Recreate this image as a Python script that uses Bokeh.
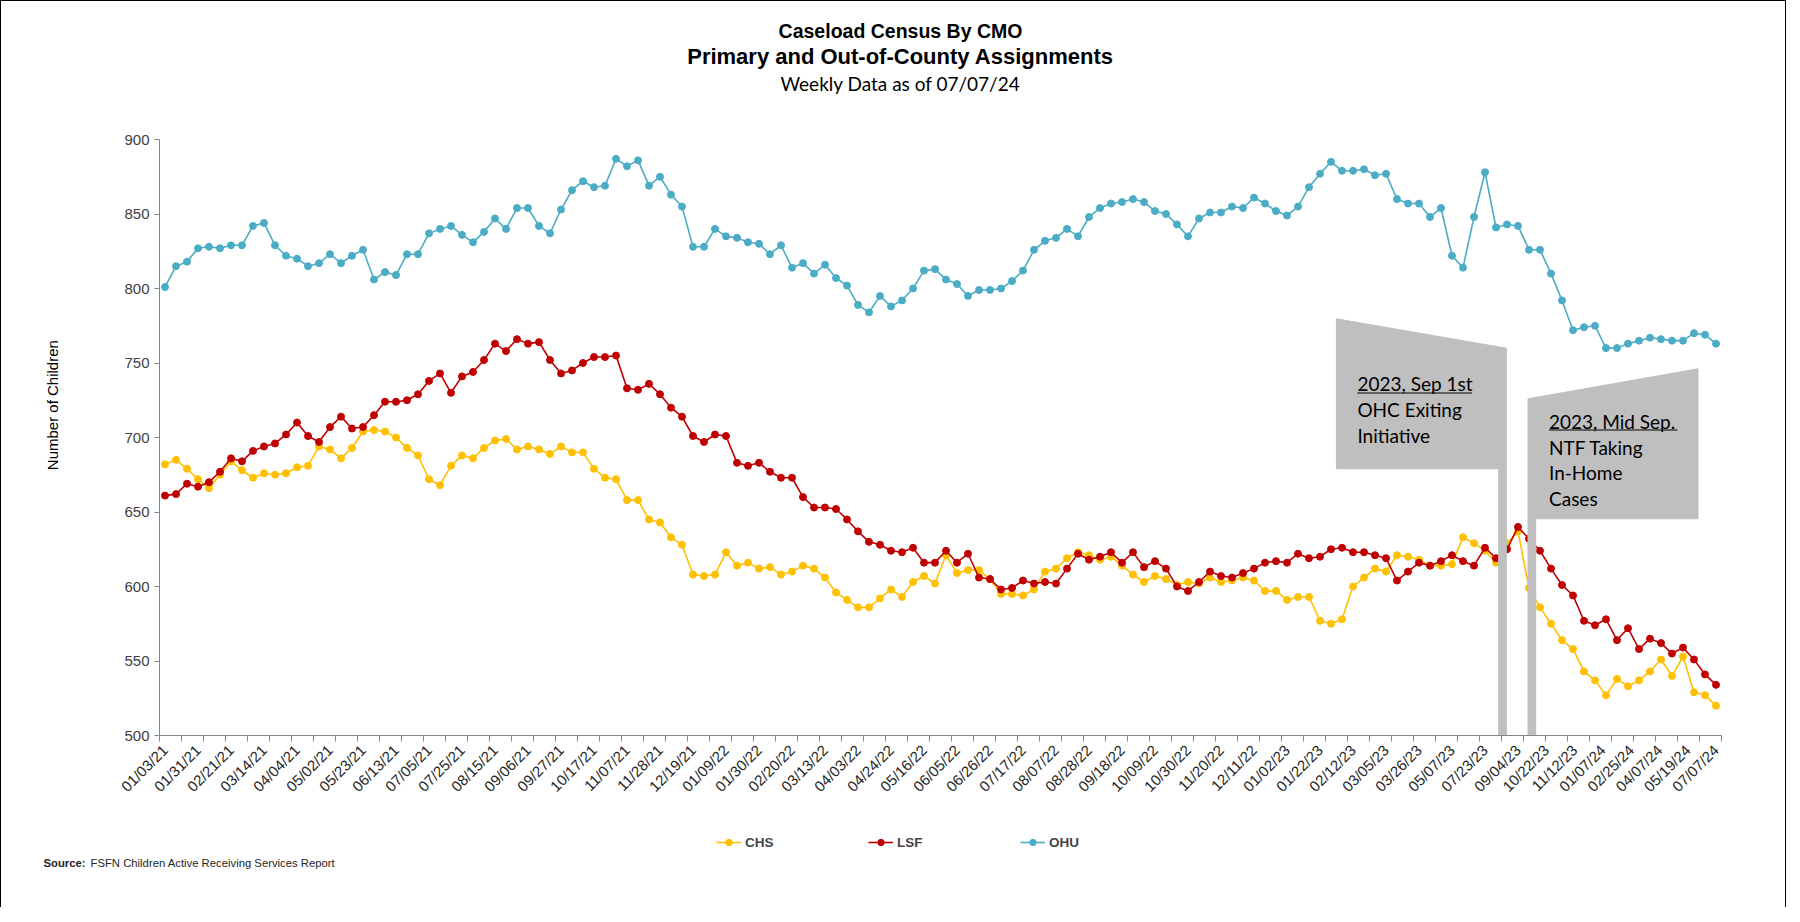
import math
from bokeh.plotting import figure
from bokeh.layouts import column, row
from bokeh.models import Range1d, FixedTicker, Label, Legend, LegendItem
from bokeh.embed import file_html
from bokeh.resources import INLINE

# ---------------- data ----------------
tick_labels = ["01/03/21", "01/31/21", "02/21/21", "03/14/21", "04/04/21", "05/02/21", "05/23/21",
               "06/13/21", "07/05/21", "07/25/21", "08/15/21", "09/06/21", "09/27/21", "10/17/21",
               "11/07/21", "11/28/21", "12/19/21", "01/09/22", "01/30/22", "02/20/22", "03/13/22",
               "04/03/22", "04/24/22", "05/16/22", "06/05/22", "06/26/22", "07/17/22", "08/07/22",
               "08/28/22", "09/18/22", "10/09/22", "10/30/22", "11/20/22", "12/11/22", "01/02/23",
               "01/22/23", "02/12/23", "03/05/23", "03/26/23", "05/07/23", "07/23/23", "09/04/23",
               "10/22/23", "11/12/23", "01/07/24", "02/25/24", "04/07/24", "05/19/24", "07/07/24"]

chs = [682, 685, 679, 672, 666, 675, 684, 678, 673, 676, 675, 676, 680, 681, 694, 692, 686, 693,
       704, 705, 704, 700, 693, 688, 672, 668, 681, 688, 686, 693, 698, 699, 692, 694, 692, 689,
       694, 690, 690, 679, 673, 672, 658, 658, 645, 643, 633, 628, 608, 607, 608, 623, 614, 616,
       612, 613, 608, 610, 614, 612, 606, 596, 591, 586, 586, 592, 598, 593, 603, 607, 602,
       621, 609, 611, 611, 605, 595, 595, 594, 598, 610, 612, 619, 623, 621, 618, 620, 614, 608,
       603, 607, 605, 601, 603, 602, 606, 603, 604, 606, 604, 597, 597, 591, 593, 593,
       577, 575, 578, 600, 606, 612, 610, 621, 620, 618, 614, 614, 615, 633, 629, 624, 616, 629,
       637, 599, 586, 575, 564, 558, 543, 537, 527, 538, 533, 537, 543, 551, 540, 553, 529, 527,
       520]

lsf = [661, 662, 669, 667, 670, 677, 686, 684, 691, 694, 696, 702, 710, 701, 697, 707, 714, 706,
       707, 715, 724, 724, 725, 729, 738, 743, 730, 741, 744, 752, 763, 758, 766, 763, 764, 752,
       743, 745, 750, 754, 754, 755, 733, 732, 736, 729, 720, 714, 701, 697, 702, 701, 683, 681,
       683, 677, 673, 673, 660, 653, 653, 652, 645, 637, 630, 628, 624, 623, 626, 616, 616,
       624, 616, 622, 606, 605, 598, 599, 604, 602, 603, 602, 612, 622, 618, 620, 623, 616, 623,
       613, 617, 612, 600, 597, 603, 610, 607, 606, 609, 612, 616, 617, 616, 622, 619,
       620, 625, 626, 623, 623, 621, 619, 604, 610, 616, 614, 617, 621, 617, 614, 626, 619, 625,
       640, 632, 624, 612, 601, 594, 577, 574, 578, 564, 572, 558, 565, 562, 555, 559, 551, 541,
       534]

ohu = [801, 815, 818, 827, 828, 827, 829, 829, 842, 844, 829, 822, 820, 815, 817, 823, 817, 822,
       826, 806, 811, 809, 823, 823, 837, 840, 842, 836, 831, 838, 847, 840, 854, 854, 842, 837,
       853, 866, 872, 868, 869, 887, 882, 886, 869, 875, 863, 855, 828, 828, 840, 835, 834, 831,
       830, 823, 829, 814, 817, 810, 816, 807, 802, 789, 784, 795, 788, 792, 800, 812, 813,
       806, 803, 795, 799, 799, 800, 805, 812, 826, 832, 834, 840, 835, 848, 854, 857, 858, 860,
       858, 852, 850, 843, 835, 847, 851, 851, 855, 854, 861, 857, 852, 849, 855, 868, 877,
       885, 879, 879, 880, 876, 877, 860, 857, 857, 848, 854, 822, 814, 848, 878,
       841, 843, 842, 826, 826, 810, 792, 772, 774, 775, 760, 760, 763, 765, 767, 766, 765, 765,
       770, 769, 763]

series_names = ["CHS", "LSF", "OHU"]
series_colors = ["#FFC000", "#C00000", "#4BACC6"]

# ---------------- layout (page pixels) ----------------
TOTAL_W = 1784
TITLE_H = 128          # page y 8 .. 136
MAIN_H = 682           # page y 136 .. 818
FOOT_H = 96            # page y 818 .. 914
YLAB_W = 100           # page x 8 .. 108
MAIN_W = TOTAL_W - YLAB_W

n = len(chs)
xs = list(range(n))
FRAME_L = 166
FRAME_W = 1562
FRAME_T = 146
FRAME_H = 596
Y0, Y1 = 500, 900

MB_LEFT = FRAME_L - (8 + YLAB_W)
MB_RIGHT = MAIN_W - MB_LEFT - FRAME_W
MB_TOP = FRAME_T - (8 + TITLE_H)
MB_BOTTOM = MAIN_H - MB_TOP - FRAME_H


def dx(px):
    return -0.5 + (px - FRAME_L) / FRAME_W * n


def dy(py):
    return Y1 - (py - FRAME_T) / FRAME_H * (Y1 - Y0)


def blank_fig(w, h):
    f = figure(width=w, height=h, output_backend="svg", toolbar_location=None,
               x_range=Range1d(0, w), y_range=Range1d(0, h),
               x_axis_location=None, y_axis_location=None,
               min_border=0, min_border_left=0, min_border_right=0,
               min_border_top=0, min_border_bottom=0)
    f.outline_line_color = None
    f.grid.visible = False
    f.background_fill_color = "white"
    f.border_fill_color = "white"
    return f


# ---------------- title figure ----------------
pt = blank_fig(TOTAL_W, TITLE_H)
for txt, yy, style, font, size in [("Caseload Census By CMO", 37, "bold", "Liberation Sans", "19.5px"),
                                   ("Primary and Out-of-County Assignments", 63, "bold", "Liberation Sans", "22px"),
                                   ("Weekly Data as of 07/07/24", 90, "normal", "Lato", "19px")]:
    pt.add_layout(Label(x=907 - 8, y=TITLE_H - (yy - 8), text=txt, text_font=font,
                        text_font_style=style, text_font_size=size, text_align="center",
                        text_baseline="middle", text_color="#000000"))

# ---------------- y label figure ----------------
py = blank_fig(YLAB_W, MAIN_H)
py.add_layout(Label(x=59 - 8, y=MAIN_H - (440 - 136), text="Number of Children", angle=math.pi / 2,
                    text_font="Liberation Sans", text_font_size="15px", text_align="center",
                    text_baseline="middle", text_color="#000000"))

# ---------------- main chart ----------------
p = figure(width=MAIN_W, height=MAIN_H, output_backend="svg", toolbar_location=None,
           x_range=Range1d(-0.5, n - 0.5), y_range=Range1d(Y0, Y1),
           min_border_left=MB_LEFT, min_border_right=MB_RIGHT,
           min_border_top=MB_TOP, min_border_bottom=MB_BOTTOM)
p.outline_line_color = None
p.xgrid.visible = False
p.ygrid.visible = False
p.background_fill_color = "white"
p.border_fill_color = "white"

# LSF peak in the second half of the series (09/04/23)
peak_idx = max(range(n // 2, n), key=lambda i: lsf[i])

AX = "#868686"
n_reg = peak_idx // 3 + 1                       # labels every 3 points up to the peak
label_pos = [float(3 * k) for k in range(n_reg)]
n_rest = len(tick_labels) - n_reg
label_pos += [round(peak_idx + (k + 1) * (n - 1 - peak_idx) / n_rest, 4) for k in range(n_rest)]
p.xaxis.ticker = FixedTicker(ticks=label_pos, minor_ticks=[i - 0.5 for i in range(0, n + 1, 2)])
p.xaxis.major_label_overrides = {pos: lab for pos, lab in zip(label_pos, tick_labels)}
p.xaxis.major_label_orientation = math.pi / 4
p.xaxis.major_tick_out = 0
p.xaxis.major_tick_in = 0
p.xaxis.minor_tick_out = 6
p.xaxis.minor_tick_in = 0
p.xaxis.minor_tick_line_color = AX
p.xaxis.axis_line_color = AX
p.xaxis.major_label_text_font = "Liberation Sans"
p.xaxis.major_label_text_font_size = "15px"
p.xaxis.major_label_text_color = "#262626"
p.xaxis.major_label_standoff = 6

p.yaxis.ticker = FixedTicker(ticks=list(range(500, 901, 50)))
p.yaxis.axis_line_color = AX
p.yaxis.major_tick_line_color = AX
p.yaxis.major_tick_out = 5
p.yaxis.major_tick_in = 0
p.yaxis.minor_tick_out = 0
p.yaxis.minor_tick_in = 0
p.yaxis.major_label_text_font = "Liberation Sans"
p.yaxis.major_label_text_font_size = "15px"
p.yaxis.major_label_text_color = "#404040"

for name, vals, col in zip(series_names, [chs, lsf, ohu], series_colors):
    p.line(xs, vals, line_color=col, line_width=1.6)
    p.scatter(xs, vals, size=7, marker="circle", fill_color=col, line_color=col)

# flags, anchored on the LSF peak
P = FRAME_L + (peak_idx + 0.5) * FRAME_W / n
GREY = "#BFBFBF"
flag1 = [(P - 181.6, 325.3), (P - 11.6, 354.7), (P - 11.6, 742), (P - 19.3, 742), (P - 19.3, 475.3),
         (P - 181.6, 475.3)]
flag2 = [(P + 10.0, 405.3), (P + 180.0, 375.3), (P + 180.0, 525.3), (P + 17.7, 525.3), (P + 17.7, 742),
         (P + 10.0, 742)]
for fl in (flag1, flag2):
    p.patch([dx(a) for a, b in fl], [dy(b) for a, b in fl], fill_color=GREY, line_color=GREY, line_width=1)

flag1_text = ["2023, Sep 1st", "OHC Exiting", "Initiative"]
flag2_text = ["2023, Mid Sep.", "NTF Taking", "In-Home", "Cases"]
for txt, yy in zip(flag1_text, [390.3, 416.0, 442.0]):
    p.add_layout(Label(x=dx(P - 160.6), y=dy(yy), text=txt, text_font="Lato", text_font_size="19px",
                       text_color="#000000", text_baseline="middle", text_align="left"))
for txt, yy in zip(flag2_text, [427.7, 453.7, 478.7, 504.7]):
    p.add_layout(Label(x=dx(P + 31.0), y=dy(yy), text=txt, text_font="Lato", text_font_size="19px",
                       text_color="#000000", text_baseline="middle", text_align="left"))
p.segment(x0=[dx(P - 160.6), dx(P + 31.0)], y0=[dy(399.5), dy(436.5)],
          x1=[dx(P - 46.0), dx(P + 159.4)], y1=[dy(399.5), dy(436.5)], line_color="#000000", line_width=1)

# ---------------- footer: legend + source ----------------
pf = blank_fig(TOTAL_W, FOOT_H)
items = []
for name, col in zip(series_names, series_colors):
    # one sample point far outside the visible range, only so the legend can draw its glyphs
    lr = pf.line([-500, -400], [-500, -500], line_color=col, line_width=1.6)
    sr = pf.scatter([-500], [-500], size=7, marker="circle", fill_color=col, line_color=col)
    items.append(LegendItem(label=name, renderers=[lr, sr]))
legend = Legend(items=items, orientation="horizontal", location=(723 - 8, FOOT_H - 39),
                border_line_alpha=0, background_fill_alpha=0, label_text_font="Liberation Sans",
                label_text_font_style="bold", label_text_font_size="13.5px", glyph_width=25,
                glyph_height=16, label_standoff=4, spacing=18, label_width=105, padding=0, margin=0)
pf.add_layout(legend, "center")
pf.add_layout(Label(x=50 - 8, y=FOOT_H - (869 - 818), text="Source:", text_font="Liberation Sans",
                    text_font_style="bold", text_font_size="11.3px", text_align="left",
                    text_baseline="middle", text_color="#262626"))
pf.add_layout(Label(x=97 - 8, y=FOOT_H - (869 - 818), text="FSFN Children Active Receiving Services Report",
                    text_font="Liberation Sans", text_font_size="11.3px", text_align="left",
                    text_baseline="middle", text_color="#262626"))

layout = column(pt, row(py, p), pf)
layout.styles = {"border-top": "1px solid #000000", "border-left": "1px solid #000000",
                 "border-right": "1px solid #000000"}

open("out.html", "w").write(file_html(layout, INLINE))
